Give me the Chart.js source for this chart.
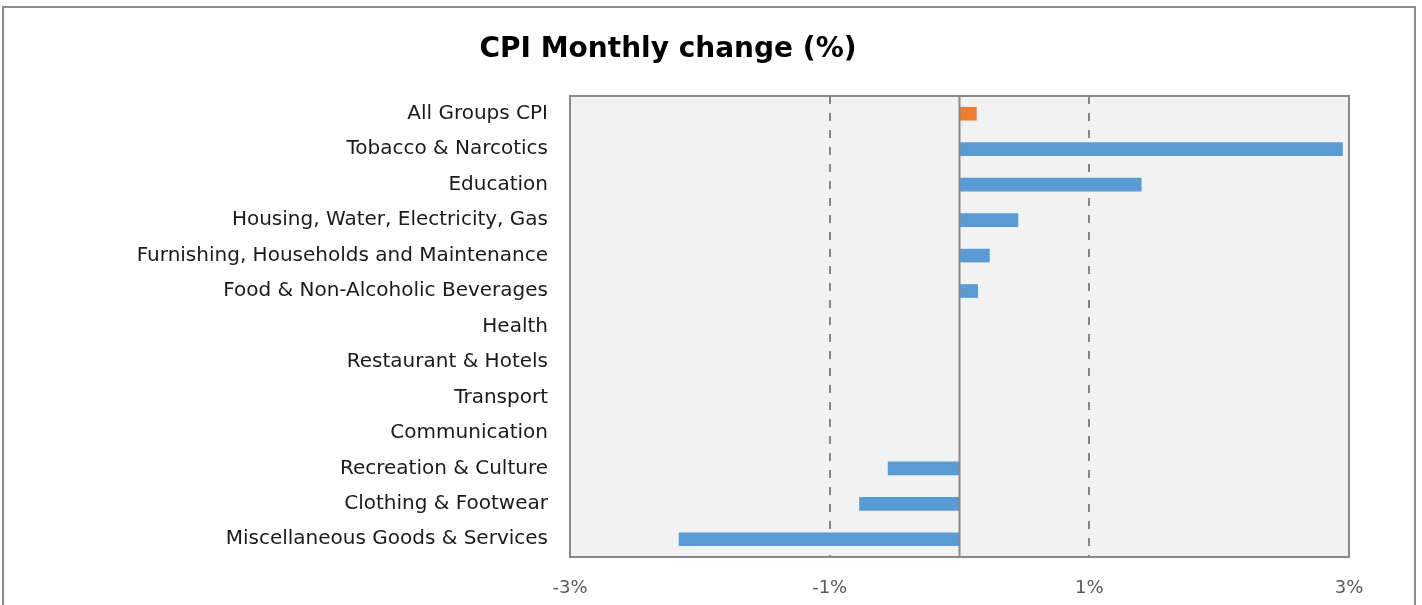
<!DOCTYPE html>
<html>
<head>
<meta charset="utf-8">
<script src="https://cdn.jsdelivr.net/npm/chart.js@4.4.1/dist/chart.umd.min.js"></script>
<style>
  html, body { margin: 0; padding: 0; background: #fff; overflow: hidden; }
  #wrap { position: relative; width: 1422px; height: 605px; }
  #frame { position: absolute; left: 2px; top: 6px; width: 1414px; height: 640px; border: 2px solid #8c8c8c; box-sizing: border-box; }
  canvas { position: absolute; left: 0; top: 0; }
</style>
</head>
<body>
<div id="wrap">
  <div id="frame"></div>
  <canvas id="chart" width="1422" height="605"></canvas>
</div>
<script>
// categories, top to bottom
var categories = [
  'All Groups CPI',
  'Tobacco & Narcotics',
  'Education',
  'Housing, Water, Electricity, Gas',
  'Furnishing, Households and Maintenance',
  'Food & Non-Alcoholic Beverages',
  'Health',
  'Restaurant & Hotels',
  'Transport',
  'Communication',
  'Recreation & Culture',
  'Clothing & Footwear',
  'Miscellaneous Goods & Services'
];

// monthly change, %
var changes = [0.13, 2.95, 1.4, 0.45, 0.23, 0.14, 0, 0, 0, 0, -0.55, -0.77, -2.16];

var xTicks = [-3, -1, 1, 3];

var barColors = categories.map(function(c) {
  return c === 'All Groups CPI' ? '#ed7d31' : '#5b9bd5';
});

// plot background, border and the zero line
var plotArea = {
  id: 'plotArea',
  beforeDraw: function(chart) {
    var a = chart.chartArea, ctx = chart.ctx;
    ctx.save();
    ctx.fillStyle = '#f2f2f2';
    ctx.fillRect(a.left, a.top, a.right - a.left, a.bottom - a.top);
    ctx.restore();
  },
  afterDatasetsDraw: function(chart) {
    var a = chart.chartArea, ctx = chart.ctx;
    var x0 = chart.scales.x.getPixelForValue(0);
    ctx.save();
    ctx.strokeStyle = '#8a8a8a';
    ctx.lineWidth = 2;
    ctx.beginPath();
    ctx.moveTo(x0, a.top);
    ctx.lineTo(x0, a.bottom);
    ctx.stroke();
    ctx.strokeRect(a.left, a.top, a.right - a.left, a.bottom - a.top);
    ctx.restore();
  }
};

// title sits left of centre, like the original
var titlePlugin = {
  id: 'titleText',
  afterDraw: function(chart) {
    var ctx = chart.ctx;
    ctx.save();
    ctx.font = 'bold 28px "DejaVu Sans"';
    ctx.fillStyle = '#000';
    ctx.textAlign = 'center';
    ctx.textBaseline = 'middle';
    ctx.fillText('CPI Monthly change (%)', 668, 50);
    ctx.restore();
  }
};

new Chart(document.getElementById('chart'), {
  type: 'bar',
  data: {
    labels: categories,
    datasets: [{
      data: changes,
      backgroundColor: barColors,
      borderWidth: 0,
      barThickness: 13
    }]
  },
  plugins: [plotArea, titlePlugin],
  options: {
    indexAxis: 'y',
    responsive: false,
    animation: false,
    layout: { padding: { top: 96, right: 73, left: 0, bottom: 0 } },
    plugins: {
      legend: { display: false },
      tooltip: { enabled: false }
    },
    scales: {
      x: {
        min: -3,
        max: 3,
        afterBuildTicks: function(scale) {
          scale.ticks = xTicks.map(function(v) { return { value: v }; });
        },
        afterFit: function(scale) { scale.height = 48; },
        ticks: {
          padding: 21,
          color: '#595959',
          font: { family: 'DejaVu Sans', size: 18 },
          callback: function(v) { return v + '%'; }
        },
        grid: {
          drawTicks: false,
          lineWidth: 2,
          color: function(ctx) {
            var v = ctx.tick && ctx.tick.value;
            return (v === -1 || v === 1) ? '#858585' : 'rgba(0,0,0,0)';
          }
        },
        border: { display: false, dash: [8, 9] }
      },
      y: {
        afterFit: function(scale) { scale.width = 570; },
        ticks: {
          padding: 22,
          color: '#1a1a1a',
          font: { family: 'DejaVu Sans', size: 20 }
        },
        grid: { display: false, drawTicks: false },
        border: { display: false }
      }
    }
  }
});
</script>
</body>
</html>
